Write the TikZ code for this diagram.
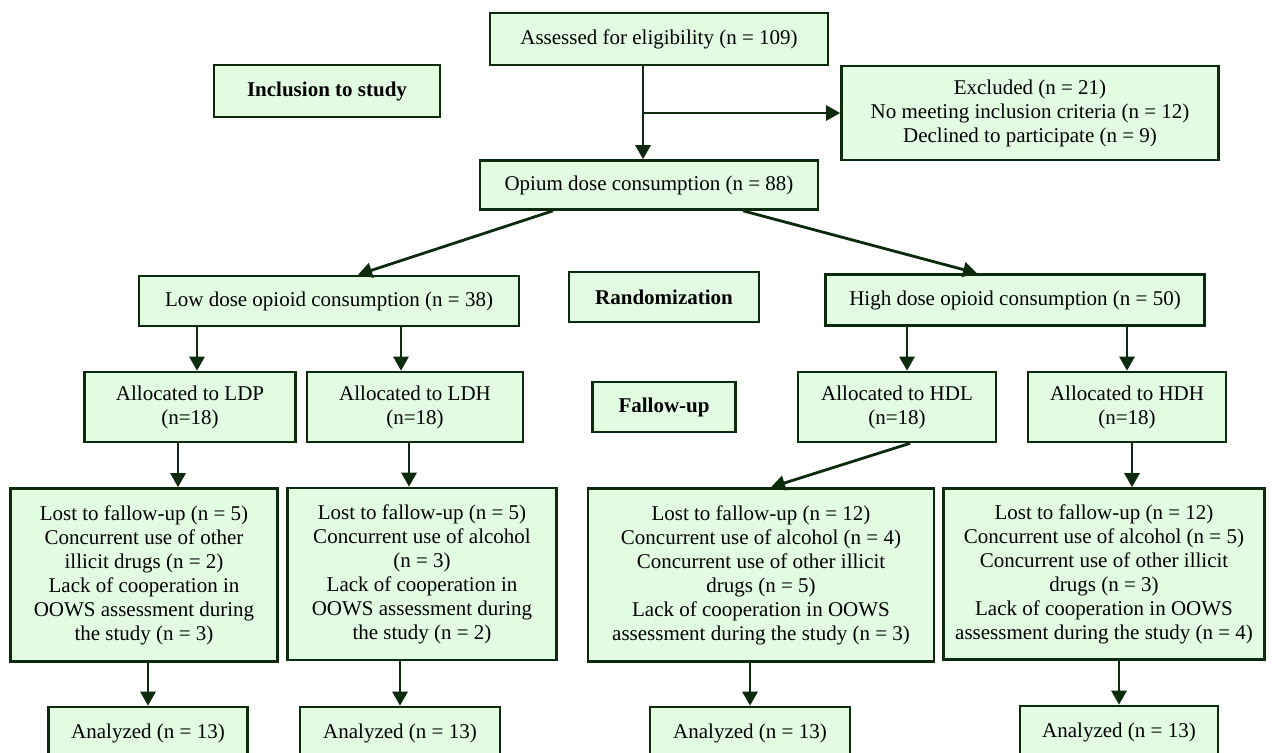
\documentclass[tikz,border=0pt]{standalone}
\usepackage{fontspec}
\setmainfont{Liberation Serif}
\usetikzlibrary{arrows.meta}
\definecolor{boxfill}{RGB}{226,252,226}
\definecolor{boxline}{RGB}{12,42,12}

\begin{document}
\begin{tikzpicture}[x=0.5pt, y=-0.5pt,
    box/.style={draw=boxline, fill=boxfill, line width=1.3pt, align=center, inner sep=2pt,
                font=\fontsize{10.5}{12}\selectfont},
    tag/.style={box, font=\fontsize{10.5}{12}\selectfont\bfseries},
    arr/.style={draw=boxline, line width=1.4pt, -{Triangle[length=7pt,width=7.5pt]}}]
            \useasboundingbox (0,0) rectangle (1272,752);

            % screening
            \node[box, minimum width=169pt, minimum height=26pt] (assess) at (659,39) {Assessed for eligibility (n = 109)};
            \node[tag, minimum width=113pt, minimum height=26pt] (incl) at (327,91) {Inclusion to study};
            \node[box, minimum width=188.5pt, minimum height=47pt] (excl) at (1030,113) {Excluded (n = 21)\\No meeting inclusion criteria (n = 12)\\Declined to participate (n = 9)};
            \node[box, minimum width=169pt, minimum height=24.5pt] (opium) at (649,185) {Opium dose consumption (n = 88)};

            % randomization
            \node[box, minimum width=190pt, minimum height=25pt] (low) at (329,301) {Low dose opioid consumption (n = 38)};
            \node[tag, minimum width=95pt, minimum height=25pt] (rand) at (664,297) {Randomization};
            \node[box, minimum width=189.5pt, minimum height=25.5pt] (high) at (1015,300) {High dose opioid consumption (n = 50)};

            % allocation
            \node[box, minimum width=105.5pt, minimum height=35pt] (ldp) at (190,407) {Allocated to LDP\\(n=18)};
            \node[box, minimum width=108pt, minimum height=35pt] (ldh) at (415,407) {Allocated to LDH\\(n=18)};
            \node[tag, minimum width=71.5pt, minimum height=25pt] (fallow) at (664,407) {Fallow-up};
            \node[box, minimum width=99pt, minimum height=35pt] (hdl) at (897,407) {Allocated to HDL\\(n=18)};
            \node[box, minimum width=99pt, minimum height=35pt] (hdh) at (1127,407) {Allocated to HDH\\(n=18)};

            % follow-up
            \node[box, minimum width=133.5pt, minimum height=86.5pt] (lost1) at (144,575) {Lost to fallow-up (n = 5)\\Concurrent use of other\\illicit drugs (n = 2)\\Lack of cooperation in\\OOWS assessment during\\the study (n = 3)};
            \node[box, minimum width=134.5pt, minimum height=86pt] (lost2) at (422,574) {Lost to fallow-up (n = 5)\\Concurrent use of alcohol\\(n = 3)\\Lack of cooperation in\\OOWS assessment during\\the study (n = 2)};
            \node[box, minimum width=173pt, minimum height=86.5pt] (lost3) at (761,575) {Lost to fallow-up (n = 12)\\Concurrent use of alcohol (n = 4)\\Concurrent use of other illicit\\drugs (n = 5)\\Lack of cooperation in OOWS\\assessment during the study (n = 3)};
            \node[box, minimum width=160.5pt, minimum height=85.5pt] (lost4) at (1104,574) {Lost to fallow-up (n = 12)\\Concurrent use of alcohol (n = 5)\\Concurrent use of other illicit\\drugs (n = 3)\\Lack of cooperation in OOWS\\assessment during the study (n = 4)};

            % analysis
            \node[box, minimum width=99.5pt, minimum height=26pt] (an1) at (148,733) {Analyzed (n = 13)};
            \node[box, minimum width=100pt, minimum height=26pt] (an2) at (400,733) {Analyzed (n = 13)};
            \node[box, minimum width=100pt, minimum height=26pt] (an3) at (750,733) {Analyzed (n = 13)};
            \node[box, minimum width=99pt, minimum height=26pt] (an4) at (1119,732) {Analyzed (n = 13)};

            % arrows
            \draw[arr] ([xshift=-8pt]assess.south) -- ([xshift=-8pt]assess.south |- opium.north);
            \draw[arr] ([xshift=-8pt]assess.south |- excl.west) -- (excl.west);
            \draw[arr] ([xshift=-48pt]opium.south) -- ([xshift=14.5pt]low.north);
            \draw[arr] ([xshift=47pt]opium.south) -- ([xshift=-19pt]high.north);
            \draw[arr] ([xshift=3.5pt]ldp.north |- low.south) -- ([xshift=3.5pt]ldp.north);
            \draw[arr] ([xshift=-7pt]ldh.north |- low.south) -- ([xshift=-7pt]ldh.north);
            \draw[arr] ([xshift=5pt]hdl.north |- high.south) -- ([xshift=5pt]hdl.north);
            \draw[arr] (hdh.north |- high.south) -- (hdh.north);
            \draw[arr] ([xshift=-6pt]ldp.south) -- ([xshift=-6pt]ldp.south |- lost1.north);
            \draw[arr] ([xshift=-3pt]ldh.south) -- ([xshift=-3pt]ldh.south |- lost2.north);
            \draw[arr] ([xshift=6.5pt]hdl.south) -- ([xshift=5pt]lost3.north);
            \draw[arr] ([xshift=2.5pt]hdh.south) -- ([xshift=2.5pt]hdh.south |- lost4.north);
            \draw[arr] (an1.north |- lost1.south) -- (an1.north);
            \draw[arr] (an2.north |- lost2.south) -- (an2.north);
            \draw[arr] (an3.north |- lost3.south) -- (an3.north);
            \draw[arr] (an4.north |- lost4.south) -- (an4.north);
        \end{tikzpicture}
\end{document}
